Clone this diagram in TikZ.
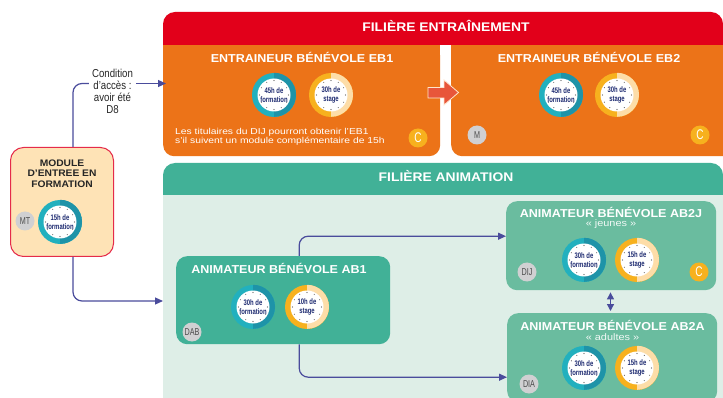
\documentclass[tikz,border=0pt]{standalone}
\usepackage{fontspec}
\setmainfont{Liberation Sans}
\usepackage{tikz}
\usetikzlibrary{arrows.meta}

\definecolor{filred}{HTML}{E2001A}
\definecolor{filorange}{HTML}{EC7318}
\definecolor{filgreen}{HTML}{41B197}
\definecolor{panelgreen}{HTML}{DEEEE7}
\definecolor{softgreen}{HTML}{6ABC9F}
\definecolor{modfill}{HTML}{FEE3B6}
\definecolor{modline}{HTML}{E52B4A}
\definecolor{linkblue}{HTML}{4A4C9C}
\definecolor{dialnavy}{HTML}{1D2A70}
\definecolor{tealA}{HTML}{22B0BE}
\definecolor{tealB}{HTML}{1E93A8}
\definecolor{ambA}{HTML}{F7B11E}
\definecolor{ambB}{HTML}{FDDDA8}
\definecolor{badgegrey}{HTML}{D0D0D2}
\definecolor{arrowred}{HTML}{E8563A}

\tikzset{
    card/.style={rectangle, rounded corners=11pt, anchor=north west, inner sep=0pt},
    cardtitle/.style={text=white, font=\bfseries\fontsize{11.5}{12}\selectfont, xscale=1.09},
    headtitle/.style={text=white, font=\bfseries\fontsize{12.5}{13}\selectfont, xscale=1.11},
    subtitle/.style={text=white!90!softgreen, font=\fontsize{9.5}{10}\selectfont, xscale=1.15},
    ring/.style={circle, minimum size=44pt, inner sep=0pt},
    face/.style={circle, fill=white, minimum size=33pt, inner sep=0pt},
    dialtext/.style={text=dialnavy, align=center, inner sep=0pt, xscale=.74,
        font=\bfseries\fontsize{8}{9}\selectfont},
    badge/.style={circle, minimum size=19pt, inner sep=0pt},
    grade/.style={badge, fill=badgegrey, text=black!70, font=\fontsize{10}{10}\selectfont},
    cbadge/.style={badge, fill=ambA, text=white, font=\fontsize{14}{14}\selectfont},
    link/.style={draw=linkblue, line width=1.2pt, rounded corners=9pt, -{Triangle[length=8pt,width=7pt]}},
    biglink/.style={draw=linkblue, line width=1.2pt, {Triangle[length=7pt,width=7pt]}-{Triangle[length=7pt,width=7pt]}},
}

\newcommand{\slim}[1]{\scalebox{.72}[1]{#1}}

% name, position, left colour, right colour, text
\newcommand{\dial}[5]{
    \node (#1) [ring, fill=#3] at (#2) {};
    \fill[#4] (#1.north) arc[start angle=90, end angle=-90, radius=22pt] -- cycle;
    \node (#1face) [face] at (#1) {};
    \foreach \a in {0,30,...,330}
        \fill[black!65] (#1) ++(\a:14.5pt) circle (.55pt);
    \node (#1text) [dialtext] at (#1) {#5};
}

\begin{document}
\begin{tikzpicture}[x=1pt,y=-1pt]

    \clip (0,0) rectangle (723,398);
    \fill[white] (0,0) rectangle (723,398);

    % filiere entrainement
    \node (eb1) [card, fill=filorange, minimum width=277pt, minimum height=111pt] at (163,45) {};
    \node (eb2) [card, fill=filorange, minimum width=283pt, minimum height=111pt] at (451,45) {};
    \fill[filorange] (163,45) rectangle (440,70);
    \fill[filorange] (451,45) rectangle (723,70);
    \fill[filred] (163,45) [rounded corners=12pt] -- (163,12) -- (723,12) [sharp corners] -- (723,45) -- cycle;
    \node (filent) [headtitle] at (446,26) {FILIÈRE ENTRAÎNEMENT};
    \node (eb1title) [cardtitle] at (302,57.5) {ENTRAINEUR BÉNÉVOLE EB1};
    \node (eb2title) [cardtitle] at (589,57.5) {ENTRAINEUR BÉNÉVOLE EB2};
    \dial{eb1a}{274,95}{tealA}{tealB}{45h de\\formation}
    \dial{eb1b}{331,95}{ambA}{ambB}{30h de\\stage}
    \dial{eb2a}{561,95}{tealA}{tealB}{45h de\\formation}
    \dial{eb2b}{617,95}{ambA}{ambB}{30h de\\stage}
    \node (eb1note) [text=white, anchor=west, align=left, inner sep=0pt, xscale=1.2,
        font=\fontsize{8.6}{9.3}\selectfont] at (175,136.5)
        {Les titulaires du DIJ pourront obtenir l'EB1\\s'il suivent un module complémentaire de 15h};
    \node (eb1c) [cbadge] at (418,138) {\slim{C}};
    \node (eb2m) [grade] at (477,135) {\slim{M}};
    \node (eb2c) [cbadge] at (700,135) {\slim{C}};
    \filldraw[fill=arrowred, draw=white!80!orange, line width=.8pt]
        (428,87.5) -- (444,87.5) -- (444,80) -- (458.5,92.5) -- (444,105) -- (444,98) -- (428,98) -- cycle;

    % filiere animation
    \fill[panelgreen] (163,195) rectangle (723,398);
    \fill[filgreen] (163,195) [rounded corners=12pt] -- (163,163) -- (723,163) [sharp corners] -- (723,195) -- cycle;
    \node (filanim) [headtitle] at (446,176) {FILIÈRE ANIMATION};

    \node (ab1) [card, fill=filgreen, minimum width=214pt, minimum height=88pt] at (176,256) {};
    \node (ab2j) [card, fill=softgreen, minimum width=210pt, minimum height=89pt] at (506,201) {};
    \node (ab2a) [card, fill=softgreen, minimum width=210pt, minimum height=89pt] at (507,313) {};

    \draw[link] ([xshift=16pt]ab1.north) |- ([yshift=9.5pt]ab2j.west);
    \draw[link] ([xshift=16pt]ab1.south) |- ([yshift=-19.5pt]ab2a.west);
    \draw[biglink] (ab2j.south -| 610.5,0) ++(0,2) -- ([yshift=2pt]ab2a.north -| 610.5,0);

    \node (ab1title) [cardtitle] at (279,268) {ANIMATEUR BÉNÉVOLE AB1};
    \node (ab2jtitle) [cardtitle] at (611,212) {ANIMATEUR BÉNÉVOLE AB2J};
    \node (ab2jsub) [subtitle] at (611,224) {« jeunes »};
    \node (ab2atitle) [cardtitle] at (612.5,325) {ANIMATEUR BÉNÉVOLE AB2A};
    \node (ab2asub) [subtitle] at (612.5,337) {« adultes »};
    \dial{ab1a}{253,307}{tealA}{tealB}{30h de\\formation}
    \dial{ab1b}{307,307}{ambA}{ambB}{10h de\\stage}
    \dial{ab2ja}{584,260}{tealA}{tealB}{30h de\\formation}
    \dial{ab2jb}{637,260}{ambA}{ambB}{15h de\\stage}
    \dial{ab2aa}{584,368}{tealA}{tealB}{30h de\\formation}
    \dial{ab2ab}{637,368}{ambA}{ambB}{15h de\\stage}
    \node (dab) [grade] at (192,332) {\slim{DAB}};
    \node (dij) [grade] at (527,272) {\slim{DIJ}};
    \node (ab2jc) [cbadge] at (699,272) {\slim{C}};
    \node (dia) [grade] at (529,384) {\slim{DIA}};

    % module d'entree
    \node (module) [card, fill=modfill, draw=modline, line width=1pt, rounded corners=13pt,
        minimum width=103pt, minimum height=109pt] at (10,147) {};
    \node (modtitle) [text=black!85, align=center, inner sep=0pt, font=\bfseries\fontsize{9.5}{10.6}\selectfont, xscale=1.08]
        at (62,173.5) {MODULE\\D'ENTREE EN\\FORMATION};
    \dial{moda}{60,222}{tealA}{tealB}{15h de\\formation}
    \node (modgrade) [grade] at (25,221) {\slim{MT}};

    % condition d'acces
    \node (cond) [text=black!85, align=center, inner sep=0pt, minimum width=49pt, xscale=.84,
        font=\fontsize{11.5}{11.8}\selectfont] at (112.5,91.5) {Condition\\d'accès :\\avoir été\\D8};
    \draw[draw=linkblue, line width=1.2pt, rounded corners=9pt] ([xshift=11pt]module.north) |- ([yshift=8pt,xshift=-3pt]cond.west);
    \draw[link] ([yshift=8pt,xshift=3pt]cond.east) -- ([yshift=8pt,xshift=3pt]cond.east -| eb1.west);
    \draw[link] ([xshift=11pt]module.south) |- (163,301);

\end{tikzpicture}
\end{document}
